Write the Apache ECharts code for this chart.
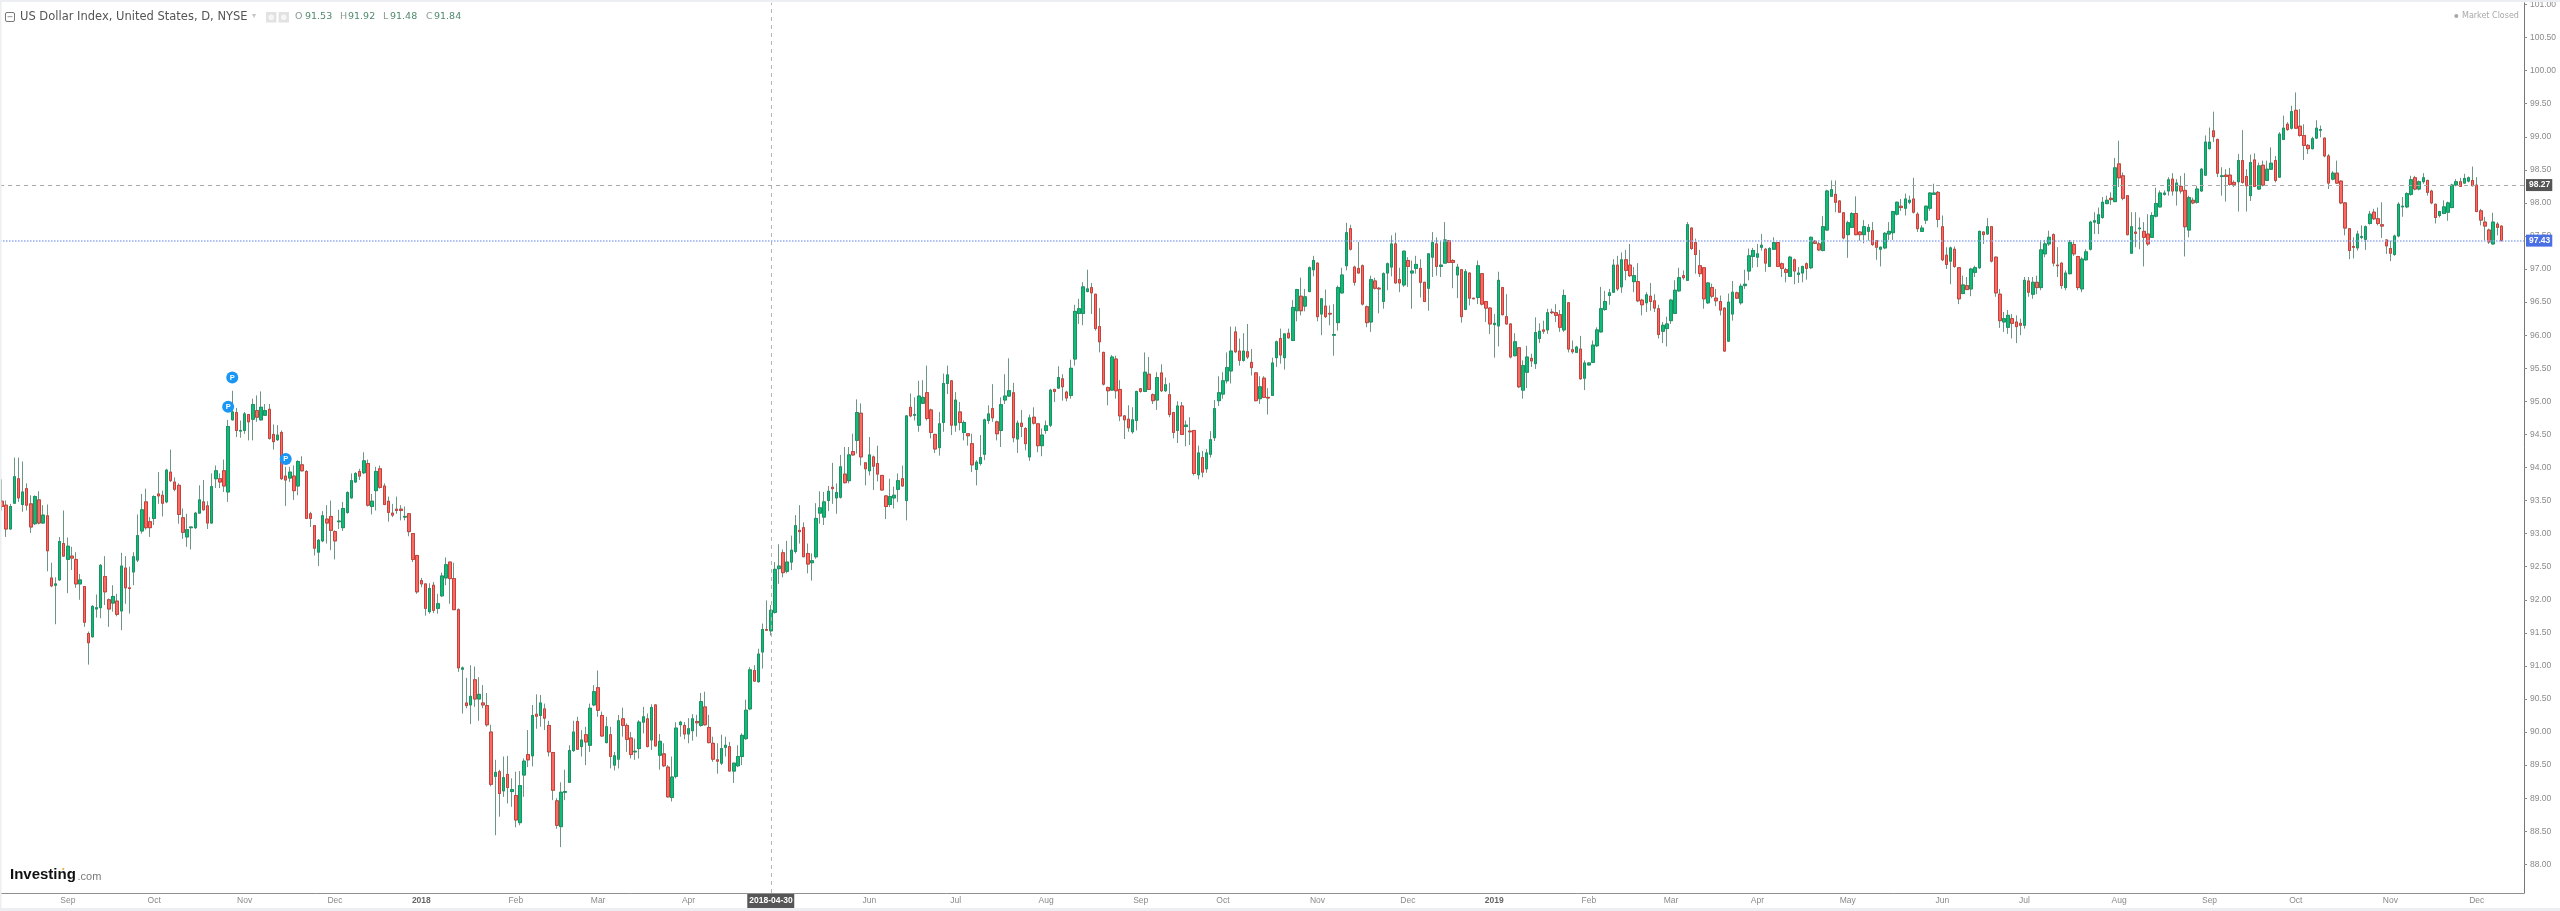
<!DOCTYPE html>
<html>
<head>
<meta charset="utf-8">
<title>US Dollar Index</title>
<script src="https://cdn.jsdelivr.net/npm/echarts@6/dist/echarts.min.js"></script>
<style>html,body{margin:0;padding:0;background:#fff}#c{width:2560px;height:911px}</style>
</head>
<body>
<div id="c"></div>
<script>
// open, close, low, high per trading day
const candles = [
[93.49,93.41,93.35,93.82],[93.43,93.07,92.95,93.50],[93.07,93.41,93.06,93.45],[93.46,93.86,93.45,94.15],[93.83,93.54,93.48,94.15],
[93.44,93.63,93.33,94.09],[93.68,93.43,93.35,93.76],[93.45,93.10,93.01,93.58],[93.15,93.56,93.13,93.58],[93.51,93.16,93.14,93.64],
[93.16,93.28,93.15,93.43],[93.27,92.74,92.43,93.44],[92.33,92.21,92.19,92.56],[92.22,92.24,91.63,92.34],[92.30,92.88,92.29,92.95],
[92.85,92.66,92.65,93.35],[92.61,92.81,92.10,92.94],[92.66,92.63,92.45,92.80],[92.61,92.24,92.18,92.72],[92.24,92.30,92.00,92.39],
[92.20,91.66,91.59,92.20],[91.49,91.35,91.02,91.52],[91.44,91.90,91.43,91.92],[91.86,91.88,91.73,92.08],[91.88,92.52,91.72,92.54],
[92.35,92.12,91.92,92.66],[92.00,91.86,91.59,92.02],[91.95,92.05,91.82,92.22],[91.98,91.78,91.75,92.09],[91.83,92.51,91.54,92.71],
[92.48,92.18,91.94,92.66],[92.18,92.17,91.79,92.50],[92.42,92.65,92.22,92.72],[92.60,92.97,92.57,93.29],[93.04,93.36,93.00,93.60],
[93.48,93.09,93.06,93.68],[93.18,93.09,92.95,93.25],[93.23,93.56,93.13,93.58],[93.60,93.57,93.45,93.93],[93.58,93.46,93.26,93.65],
[93.48,93.96,93.46,93.98],[93.93,93.80,93.78,94.27],[93.78,93.67,93.64,93.85],[93.73,93.29,93.15,93.76],[93.24,93.02,92.92,93.38],
[92.95,93.06,92.80,93.30],[93.09,93.10,92.76,93.10],[93.09,93.31,93.07,93.33],[93.31,93.51,93.30,93.73],[93.48,93.36,93.35,93.81],
[93.42,93.16,93.07,93.49],[93.16,93.71,93.15,93.91],[93.83,93.95,93.69,94.03],[93.83,93.78,93.69,93.91],[93.95,93.72,93.63,94.12],
[93.63,94.62,93.48,94.72],[94.72,94.84,94.71,95.16],[94.83,94.56,94.46,94.90],[94.55,94.56,94.45,94.71],[94.56,94.81,94.51,94.84],
[94.80,94.69,94.41,94.81],[94.73,94.95,94.41,95.04],[94.86,94.76,94.69,95.09],[94.72,94.91,94.71,95.15],[94.79,94.86,94.79,94.96],
[94.88,94.44,94.42,94.96],[94.50,94.39,94.27,94.65],[94.42,94.49,94.40,94.64],[94.53,93.83,93.81,94.56],[93.87,93.81,93.42,94.01],
[93.84,93.93,93.78,94.01],[93.87,93.65,93.51,94.03],[93.72,94.09,93.58,94.11],[94.04,93.95,93.94,94.17],[93.94,93.23,93.22,93.96],
[93.30,93.23,93.10,93.33],[93.12,92.78,92.67,93.13],[92.72,92.90,92.51,92.92],[92.89,93.27,92.87,93.34],[93.22,93.16,92.85,93.43],
[93.26,93.05,92.75,93.50],[93.03,92.89,92.61,93.05],[93.18,93.19,93.07,93.36],[93.09,93.38,93.04,93.48],[93.32,93.62,93.30,93.64],
[93.54,93.80,93.53,93.91],[93.78,93.91,93.77,93.93],[93.94,93.87,93.81,93.98],[93.92,94.10,93.90,94.23],[94.06,93.43,93.41,94.12],
[93.41,93.49,93.29,93.60],[93.65,93.94,93.35,94.01],[93.98,93.70,93.68,94.03],[93.72,93.44,93.43,93.76],[93.49,93.32,93.18,93.56],
[93.31,93.28,93.25,93.45],[93.37,93.35,93.30,93.56],[93.37,93.35,93.20,93.43],[93.25,93.26,93.20,93.41],[93.30,93.03,92.96,93.31],
[93.00,92.61,92.57,93.00],[92.67,92.12,92.09,92.67],[92.29,92.24,92.19,92.33],[92.24,91.87,91.76,92.24],[91.82,92.17,91.79,92.25],
[92.22,91.84,91.80,92.27],[91.87,91.94,91.79,92.09],[92.06,92.36,92.04,92.41],[92.33,92.53,92.22,92.64],[92.57,92.32,91.94,92.57],
[92.32,91.85,91.85,92.56],[91.85,90.97,90.91,91.87],[90.95,90.97,90.28,90.99],[90.44,90.40,90.36,90.82],[90.41,90.54,90.12,91.01],
[90.79,90.50,90.38,90.99],[90.50,90.57,90.17,90.83],[90.44,90.41,90.36,90.71],[90.40,90.11,90.08,90.59],[90.00,89.21,89.18,90.11],
[89.33,89.39,88.44,89.58],[89.40,89.07,88.72,89.43],[89.11,89.31,89.02,89.63],[89.36,89.16,88.92,89.64],[89.10,89.13,88.87,89.30],
[89.04,88.67,88.56,89.40],[88.63,89.19,88.59,89.41],[89.35,89.56,89.02,89.60],[89.66,89.58,89.47,90.03],[89.64,90.25,89.48,90.41],
[90.27,90.24,90.05,90.57],[90.25,90.44,90.08,90.56],[90.35,90.21,90.03,90.43],[90.10,89.70,89.63,90.17],[89.69,89.12,88.97,89.70],
[88.96,88.59,88.54,89.00],[88.57,89.09,88.26,89.24],[89.09,89.10,88.97,89.43],[89.24,89.72,89.23,89.80],[89.72,90.00,89.70,90.17],
[90.16,89.74,89.74,90.23],[89.78,89.88,89.63,90.03],[89.96,89.85,89.50,90.08],[89.80,90.36,89.70,90.43],[90.41,90.61,90.39,90.71],
[90.67,90.33,90.23,90.93],[90.25,89.94,89.93,90.31],[89.84,90.08,89.83,90.23],[89.96,89.63,89.45,90.08],[89.50,89.64,89.42,89.70],
[89.59,90.17,89.45,90.26],[90.20,90.10,89.93,90.37],[90.10,89.89,89.70,90.13],[89.91,89.66,89.60,90.00],[89.70,89.71,89.58,89.90],
[89.75,90.15,89.60,90.18],[90.15,90.23,89.98,90.38],[90.20,89.78,89.77,90.28],[89.88,90.37,89.73,90.42],[90.41,89.79,89.78,90.42],
[89.65,89.86,89.43,89.97],[89.67,89.49,89.47,89.83],[89.47,89.02,89.01,89.50],[89.01,89.32,88.95,89.63],[89.33,90.06,89.30,90.15],
[90.11,90.15,89.93,90.17],[90.10,89.97,89.89,90.15],[89.97,90.05,89.83,90.21],[90.02,90.20,89.87,90.27],[90.16,90.14,89.93,90.26],
[90.10,90.46,90.08,90.59],[90.38,90.11,90.10,90.61],[90.07,89.84,89.83,90.26],[89.83,89.59,89.55,89.93],[89.58,89.56,89.37,89.83],
[89.53,89.75,89.50,89.96],[89.77,89.80,89.63,89.93],[89.78,89.41,89.41,89.85],[89.41,89.53,89.23,89.53],[89.49,89.63,89.47,89.80],
[89.63,89.95,89.50,89.98],[89.90,90.33,89.88,90.49],[90.35,90.94,90.33,90.98],[90.93,90.77,90.76,91.01],[90.76,91.18,90.75,91.26],
[91.21,91.55,90.96,91.64],[91.55,91.54,91.54,91.99],[91.53,91.84,91.46,91.92],[91.81,92.46,91.79,92.57],[92.47,92.51,92.24,92.84],
[92.71,92.41,92.34,92.76],[92.43,92.57,92.40,92.89],[92.57,92.75,92.45,92.97],[92.73,93.12,92.70,93.28],[93.05,93.03,92.85,93.43],
[93.09,92.65,92.65,93.17],[92.70,92.54,92.40,92.85],[92.56,92.59,92.29,92.70],[92.65,93.23,92.62,93.46],[93.31,93.39,93.15,93.64],
[93.25,93.48,93.13,93.63],[93.50,93.64,93.34,93.72],[93.70,93.68,93.45,94.07],[93.54,93.62,93.30,93.76],[93.55,94.01,93.53,94.19],
[93.90,93.77,93.76,94.31],[93.80,94.19,93.76,94.31],[94.24,94.19,94.18,94.51],[94.41,94.83,94.21,95.03],[94.82,94.16,94.03,94.97],
[94.07,93.98,93.73,94.08],[93.95,94.19,93.88,94.46],[94.16,94.02,93.66,94.18],[94.06,93.90,93.79,94.33],[93.88,93.66,93.65,93.88],
[93.57,93.41,93.22,93.58],[93.44,93.56,93.40,93.83],[93.54,93.58,93.38,93.71],[93.67,93.80,93.48,93.91],[93.83,93.72,93.71,94.03],
[93.50,94.78,93.20,94.79],[94.91,94.78,94.76,95.12],[94.79,94.80,94.71,95.06],[94.64,95.08,94.54,95.31],[94.97,95.06,94.96,95.32],
[95.13,94.74,94.71,95.54],[94.87,94.53,94.44,94.89],[94.50,94.28,94.22,94.51],[94.30,94.66,94.18,94.84],[94.68,95.27,94.54,95.42],
[95.27,95.40,95.11,95.54],[95.31,94.64,94.49,95.32],[94.64,95.02,94.54,95.14],[94.84,94.68,94.56,94.99],[94.53,94.68,94.41,94.71],
[94.51,94.48,94.33,94.51],[94.36,94.04,93.93,94.51],[93.97,94.08,93.73,94.11],[94.06,94.15,94.03,94.49],[94.20,94.72,94.11,94.74],
[94.71,94.81,94.66,94.94],[94.89,94.75,94.69,95.26],[94.69,94.51,94.41,94.71],[94.56,94.95,94.31,95.06],[95.02,95.08,94.96,95.41],
[95.08,95.16,95.07,95.65],[95.13,94.45,94.38,95.28],[94.43,94.67,94.22,94.71],[94.67,94.62,94.46,94.87],[94.59,94.36,94.26,94.61],
[94.16,94.75,94.10,94.80],[94.76,94.67,94.65,94.91],[94.66,94.33,94.23,94.66],[94.33,94.49,94.17,94.59],[94.56,94.63,94.51,94.71],
[94.64,95.17,94.61,95.19],[95.18,95.15,94.99,95.19],[95.20,95.36,95.19,95.53],[95.34,95.22,95.01,95.41],[95.14,95.05,95.00,95.16],
[95.09,95.50,95.04,95.63],[95.64,96.36,95.54,96.46],[96.33,96.40,96.17,96.55],[96.33,96.73,96.15,96.80],[96.66,96.70,96.65,96.99],
[96.72,96.64,96.32,96.79],[96.62,96.10,96.07,96.62],[96.13,95.90,95.74,96.41],[95.74,95.26,95.24,95.75],[95.21,95.16,94.94,95.22],
[95.17,95.67,95.16,95.70],[95.64,95.16,95.04,95.69],[95.18,94.78,94.70,95.32],[94.78,94.72,94.43,94.79],[94.73,94.60,94.54,94.94],
[94.54,94.72,94.51,94.91],[94.71,95.15,94.56,95.16],[95.19,95.15,95.13,95.20],[95.15,95.44,95.14,95.74],[95.41,95.18,95.17,95.67],
[95.10,95.01,94.96,95.12],[95.02,95.36,94.87,95.44],[95.43,95.16,95.14,95.56],[95.16,95.25,95.14,95.36],[95.10,94.80,94.76,95.28],
[94.83,94.53,94.44,94.84],[94.56,94.93,94.37,95.00],[94.93,94.50,94.49,94.99],[94.62,94.64,94.32,94.71],[94.55,94.54,94.34,94.76],
[94.56,93.91,93.88,94.56],[93.89,94.22,93.82,94.33],[94.15,93.93,93.85,94.25],[93.98,94.22,93.92,94.28],[94.20,94.42,94.15,94.55],
[94.45,94.89,94.40,95.02],[95.01,95.13,94.93,95.38],[95.11,95.31,95.04,95.44],[95.31,95.51,95.27,95.74],[95.46,95.76,95.27,96.13],
[96.05,95.75,95.73,96.13],[95.76,95.62,95.54,95.95],[95.62,95.76,95.60,96.03],[95.75,95.67,95.64,96.17],[95.59,95.51,95.39,95.79],
[95.43,95.01,95.00,95.44],[95.04,95.22,94.96,95.38],[95.35,95.06,95.05,95.38],[95.06,95.05,94.80,95.20],[95.09,95.58,95.08,95.66],
[95.66,95.90,95.52,95.92],[95.95,95.70,95.57,96.10],[95.66,96.02,95.48,96.02],[96.03,95.96,95.95,96.10],[95.92,96.42,95.91,96.53],
[96.37,96.69,96.21,96.70],[96.59,96.37,96.30,96.87],[96.44,96.58,96.36,96.70],[96.66,97.02,96.65,97.04],[96.99,97.13,96.89,97.20],
[97.09,96.28,96.21,97.10],[96.32,96.55,96.00,96.56],[96.44,96.28,96.26,96.69],[96.33,96.32,96.15,96.45],[96.00,96.01,95.69,96.47],
[96.19,96.72,96.07,96.75],[96.64,96.91,96.63,97.02],[97.05,97.55,96.98,97.70],[97.61,97.30,97.28,97.67],[97.03,96.80,96.75,97.05],
[97.01,96.94,96.93,97.41],[97.05,96.47,96.45,97.07],[96.43,96.19,96.12,96.45],[96.20,96.84,96.05,96.90],[96.82,96.71,96.69,96.87],
[96.71,96.70,96.33,96.73],[96.51,96.93,96.40,96.95],[96.94,97.08,96.68,97.10],[97.03,97.38,96.89,97.51],[97.38,96.79,96.78,97.55],
[96.84,96.79,96.65,97.02],[96.76,97.27,96.73,97.28],[97.13,97.04,96.73,97.18],[96.94,96.97,96.40,97.13],[97.01,97.07,96.93,97.20],
[97.01,96.80,96.57,97.15],[96.80,96.51,96.50,96.80],[96.71,97.23,96.37,97.24],[97.18,97.40,96.88,97.56],[97.38,97.04,96.90,97.48],
[97.04,97.06,96.88,97.43],[97.09,97.44,97.09,97.71],[97.43,97.10,97.09,97.44],[97.13,97.10,96.71,97.15],[96.91,97.03,96.56,97.08],
[96.99,96.28,96.19,97.00],[96.39,96.96,96.38,97.00],[96.94,96.56,96.45,96.95],[96.56,96.55,96.55,96.56],[96.57,97.05,96.47,97.13],
[96.93,96.47,96.45,96.94],[96.51,96.41,96.20,96.51],[96.41,96.17,96.02,96.42],[96.16,96.18,95.66,96.32],[96.14,96.83,95.83,96.96],
[96.72,96.31,96.30,96.73],[96.28,96.17,96.16,96.62],[96.17,95.67,95.65,96.18],[95.69,95.90,95.68,96.03],[95.81,95.22,95.20,95.82],
[95.17,95.54,95.04,95.62],[95.44,95.67,95.20,95.84],[95.65,95.61,95.52,95.72],[95.57,96.04,95.49,96.27],[95.95,96.06,95.88,96.18],
[96.08,96.06,96.02,96.22],[96.08,96.34,96.02,96.40],[96.35,96.34,96.32,96.40],[96.34,96.30,96.20,96.47],[96.31,96.12,96.05,96.38],
[96.08,96.60,96.05,96.69],[96.49,95.79,95.74,96.50],[95.78,95.75,95.72,95.92],[95.74,95.82,95.73,95.84],[95.79,95.34,95.33,95.99],
[95.35,95.58,95.17,95.62],[95.55,95.58,95.54,95.59],[95.59,95.85,95.58,95.92],[95.84,96.08,95.82,96.12],[96.05,96.40,96.04,96.73],
[96.39,96.51,96.37,96.67],[96.60,96.64,96.46,96.70],[96.65,97.06,96.64,97.15],[97.06,96.70,96.67,97.20],[96.73,97.14,96.64,97.25],
[97.14,96.98,96.83,97.29],[97.06,96.90,96.88,97.38],[96.81,96.90,96.65,97.03],[96.81,96.52,96.50,97.09],[96.53,96.46,96.30,96.55],
[96.49,96.61,96.35,96.65],[96.59,96.51,96.37,96.79],[96.52,96.41,96.35,96.62],[96.40,96.01,95.95,96.46],[96.06,96.15,95.88,96.20],
[96.10,96.17,95.83,96.28],[96.22,96.53,96.17,96.55],[96.33,96.68,96.32,96.83],[96.67,96.87,96.66,97.02],[96.90,96.87,96.84,96.98],
[96.83,97.67,96.82,97.71],[97.62,97.31,97.29,97.63],[97.40,97.22,96.93,97.46],[97.05,96.93,96.88,97.29],[97.02,96.55,96.40,97.03],
[96.49,96.79,96.47,96.80],[96.72,96.59,96.56,96.78],[96.56,96.52,96.44,96.70],[96.51,96.38,96.30,96.60],[96.41,95.76,95.75,96.42],
[95.91,96.50,95.90,96.63],[96.32,96.65,96.22,96.82],[96.64,96.56,96.55,96.66],[96.49,96.74,96.46,96.78],[96.75,96.77,96.70,96.99],
[96.97,97.20,96.83,97.31],[97.19,97.28,97.02,97.32],[97.18,97.23,97.03,97.38],[97.33,97.36,97.28,97.53],[97.30,97.09,96.96,97.32],
[97.04,97.31,97.03,97.33],[97.30,97.40,97.29,97.48],[97.40,97.04,97.03,97.41],[97.08,97.01,96.88,97.10],[96.99,96.95,96.80,97.02],
[96.89,97.18,96.88,97.20],[97.14,96.97,96.77,97.16],[96.92,96.94,96.79,97.03],[96.94,97.04,96.80,97.05],[97.08,97.01,96.84,97.10],
[97.02,97.48,97.00,97.49],[97.42,97.39,97.38,97.44],[97.38,97.29,97.27,97.41],[97.28,97.64,97.27,97.80],[97.59,98.18,97.58,98.20],
[98.10,98.20,98.09,98.34],[98.13,98.01,97.86,98.34],[98.03,97.86,97.86,98.04],[97.85,97.47,97.45,97.86],[97.52,97.70,97.17,97.73],
[97.63,97.84,97.62,97.86],[97.84,97.52,97.51,98.10],[97.56,97.52,97.43,97.57],[97.52,97.64,97.39,97.74],[97.57,97.63,97.43,97.68],
[97.58,97.37,97.35,97.71],[97.43,97.33,97.14,97.44],[97.30,97.33,97.04,97.34],[97.32,97.54,97.30,97.56],[97.53,97.57,97.44,97.71],
[97.55,97.87,97.44,97.88],[97.83,98.01,97.81,98.02],[97.95,97.93,97.88,98.06],[97.92,98.06,97.81,98.14],[98.01,98.04,97.98,98.11],
[98.06,97.86,97.84,98.38],[97.83,97.61,97.56,97.86],[97.57,97.62,97.56,97.66],[97.74,97.95,97.68,97.96],[97.92,98.15,97.88,98.16],
[98.13,98.15,98.13,98.29],[98.16,97.75,97.63,98.18],[97.64,97.14,97.12,97.81],[97.21,97.07,97.00,97.33],[97.12,97.32,96.77,97.34],
[97.30,97.04,97.02,97.34],[97.02,96.55,96.47,97.03],[96.63,96.76,96.62,96.90],[96.75,96.69,96.69,96.88],[96.70,97.00,96.59,97.02],
[96.95,97.02,96.88,97.05],[97.02,97.57,97.00,97.58],[97.56,97.52,97.38,97.57],[97.53,97.64,97.52,97.77],[97.64,97.12,97.10,97.65],
[97.18,96.64,96.58,97.19],[96.62,96.22,96.11,96.70],[96.20,96.25,96.05,96.35],[96.12,96.30,96.02,96.38],[96.25,96.18,95.95,96.32],
[96.20,96.13,95.88,96.30],[96.18,96.15,96.00,96.25],[96.15,96.83,96.10,96.88],[96.82,96.65,96.58,96.88],[96.62,96.80,96.55,96.88],
[96.80,96.72,96.62,96.90],[96.72,97.29,96.68,97.44],[97.23,97.38,97.18,97.44],[97.38,97.48,97.35,97.58],[97.52,97.09,97.04,97.54],
[97.06,97.05,96.88,97.33],[97.09,96.75,96.70,97.10],[96.72,96.94,96.68,96.98],[96.93,97.40,96.92,97.44],[97.37,97.23,97.20,97.44],
[97.19,96.72,96.68,97.20],[96.70,97.15,96.65,97.18],[97.14,97.26,97.13,97.30],[97.30,97.71,97.28,97.73],[97.71,97.73,97.53,97.86],
[97.69,97.82,97.53,97.93],[97.78,98.01,97.76,98.09],[97.99,98.04,97.98,98.11],[98.07,98.05,97.97,98.16],[98.02,98.53,98.01,98.68],
[98.59,98.38,98.24,98.94],[98.41,98.07,98.04,98.46],[98.11,97.52,97.51,98.11],[97.24,97.64,97.23,97.86],[97.56,97.54,97.33,97.86],
[97.61,97.62,97.30,97.78],[97.57,97.48,97.04,97.71],[97.53,97.38,97.35,97.83],[97.48,97.81,97.47,97.86],[97.80,97.99,97.78,98.23],
[97.94,98.15,97.93,98.19],[98.13,98.15,98.11,98.19],[98.18,98.35,98.11,98.39],[98.36,98.18,98.11,98.45],[98.18,98.30,97.96,98.36],
[98.25,98.18,98.14,98.41],[98.19,97.64,97.19,98.45],[97.59,98.08,97.48,98.11],[98.04,98.00,97.98,98.08],[98.01,98.21,97.99,98.26],
[98.18,98.51,98.17,98.53],[98.42,98.92,98.41,99.02],[98.82,98.92,98.81,99.14],[99.09,99.00,98.92,99.38],[98.96,98.45,98.39,98.97],
[98.40,98.41,98.11,98.54],[98.42,98.40,98.02,98.51],[98.42,98.28,98.26,98.53],[98.31,98.28,98.24,98.34],[98.32,98.64,97.87,98.74],
[98.64,98.31,98.29,99.10],[98.40,98.26,97.87,98.51],[98.11,98.61,98.03,98.73],[98.65,98.25,98.24,98.75],[98.21,98.56,98.20,98.61],
[98.57,98.27,98.25,98.64],[98.34,98.51,98.34,98.64],[98.51,98.60,98.50,98.84],[98.64,98.34,98.31,98.71],[98.39,99.04,98.38,99.07],
[98.96,99.13,98.95,99.32],[99.19,99.11,99.09,99.22],[99.13,99.38,99.11,99.47],[99.40,99.13,99.12,99.67],[99.16,99.02,99.00,99.42],
[99.02,98.87,98.65,99.19],[98.87,98.82,98.74,98.89],[98.82,98.97,98.81,99.00],[98.98,99.13,98.97,99.25],[99.10,99.11,98.99,99.17],
[98.98,98.71,98.69,98.99],[98.71,98.30,98.21,98.74],[98.36,98.45,98.34,98.48],[98.45,98.30,98.29,98.64],[98.33,98.00,97.98,98.34],
[98.00,97.62,97.51,98.01],[97.61,97.28,97.15,97.61],[97.34,97.33,97.16,97.48],[97.32,97.53,97.28,97.58],[97.48,97.49,97.45,97.66],
[97.45,97.64,97.29,97.66],[97.69,97.83,97.67,97.88],[97.86,97.76,97.74,97.91],[97.76,97.69,97.66,97.93],[97.67,97.65,97.47,98.01],
[97.44,97.35,97.23,97.45],[97.31,97.24,97.12,97.43],[97.22,97.50,97.20,97.52],[97.50,97.98,97.48,98.01],[97.94,97.95,97.79,98.09],
[97.94,98.14,97.92,98.16],[98.13,98.35,98.11,98.41],[98.38,98.21,98.19,98.41],[98.21,98.32,98.19,98.34],[98.32,98.38,98.29,98.45],
[98.34,98.16,98.11,98.35],[98.18,98.00,97.98,98.20],[97.98,97.78,97.69,97.99],[97.81,97.87,97.78,97.88],[97.84,97.94,97.83,98.04],
[97.86,98.00,97.73,98.02],[97.93,98.27,97.92,98.29],[98.27,98.32,98.25,98.36],[98.32,98.25,98.24,98.38],[98.30,98.37,98.29,98.44],
[98.33,98.38,98.31,98.40],[98.34,98.26,98.25,98.55],[98.27,97.87,97.86,98.39],[97.88,97.74,97.66,97.91],[97.71,97.65,97.43,97.79],
[97.59,97.41,97.38,97.61],[97.38,97.71,97.37,97.85],[97.68,97.63,97.51,97.71],[97.65,97.43,97.42,97.66]
];
const firstDay = '2017-08-10';
const spareSessions = 5;
const monthTicks = ['2017-09-01','2017-10-02','2017-11-01','2017-12-01','2018-01-01','2018-02-01','2018-03-01','2018-04-02','2018-06-01','2018-07-02','2018-08-01','2018-09-03','2018-10-01','2018-11-01','2018-12-03','2019-01-01','2019-02-01','2019-03-01','2019-04-01','2019-05-01','2019-06-03','2019-07-01','2019-08-01','2019-09-02','2019-10-01','2019-11-01','2019-12-02'];
const monthNames = ['Sep','Oct','Nov','Dec','2018','Feb','Mar','Apr','Jun','Jul','Aug','Sep','Oct','Nov','Dec','2019','Feb','Mar','Apr','May','Jun','Jul','Aug','Sep','Oct','Nov','Dec'];
const crosshairDate = '2018-04-30';
const priceTicks = [88,88.5,89,89.5,90,90.5,91,91.5,92,92.5,93,93.5,94,94.5,95,95.5,96,96.5,97,97.5,98,98.5,99,99.5,100,100.5,101];
const lastPrice = 97.43;
const crosshairPrice = 98.27;
const publishedIdeas = [[55,94.92],[56,95.36],[69,94.13]];
const titleText = 'US Dollar Index, United States, D, NYSE';
const ohlcLetters = ['O','H','L','C'];
const ohlcValues = ['91.53','91.92','91.48','91.84'];

const categories = [];
{
  const d = new Date(firstDay + 'T00:00:00Z');
  while (categories.length < candles.length + spareSessions) {
    const wd = d.getUTCDay();
    if (wd !== 0 && wd !== 6) categories.push(d.toISOString().slice(0, 10));
    d.setUTCDate(d.getUTCDate() + 1);
  }
}
const tickName = {};
monthTicks.forEach((d, i) => { tickName[d] = monthNames[i]; });
tickName[crosshairDate] = crosshairDate;

const FONT = '"Liberation Sans", Arial, sans-serif';
const UI = '"DejaVu Sans", sans-serif';
const bodies = candles.map(r => [r[0], r[1], Math.min(r[0], r[1]), Math.max(r[0], r[1])]);
const isTick = (i, v) => v in tickName;

const ohlcGraphics = [];
[[295, 305], [340, 348], [383, 390], [426, 434]].forEach((p, i) => {
  ohlcGraphics.push({ type: 'text', x: p[0], y: 17, style: { text: ohlcLetters[i], font: '9.5px ' + UI, fill: '#8a9a92', verticalAlign: 'middle' } });
  ohlcGraphics.push({ type: 'text', x: p[1], y: 17, style: { text: ohlcValues[i], font: '9.5px ' + UI, fill: '#4f8a69', verticalAlign: 'middle' } });
});

const chart = echarts.init(document.getElementById('c'), null, { renderer: 'canvas' });
chart.setOption({
  animation: false,
  backgroundColor: '#ffffff',
  grid: { left: 0, right: 36, top: 2, bottom: 18, containLabel: false },
  xAxis: {
    type: 'category', data: categories, boundaryGap: true,
    axisLine: { lineStyle: { color: '#8f8f8f', width: 1 } },
    axisTick: { length: 2, interval: isTick, alignWithLabel: true, lineStyle: { color: '#8f8f8f' } },
    splitLine: { show: false },
    axisLabel: {
      interval: isTick, margin: 1,
      formatter: v => {
        const t = tickName[v];
        if (v === crosshairDate) return '{tag|' + t + '}';
        if (t === '2018' || t === '2019') return '{year|' + t + '}';
        return '{m|' + t + '}';
      },
      rich: {
        tag: { backgroundColor: '#565656', color: '#ffffff', fontSize: 8.5, fontFamily: FONT, fontWeight: 'bold', padding: [0, 1.5, 0, 2], height: 14, lineHeight: 14 },
        year: { color: '#666666', fontSize: 8.5, fontFamily: FONT, fontWeight: 'bold', height: 14, lineHeight: 14 },
        m: { color: '#8a8a8a', fontSize: 8.5, fontFamily: FONT, height: 14, lineHeight: 14 }
      }
    }
  },
  yAxis: {
    type: 'value', position: 'right', min: 87.5665, max: 101.026, scale: true,
    axisLine: { show: true, lineStyle: { color: '#777777', width: 1 } },
    axisTick: { show: true, length: 3, customValues: priceTicks, lineStyle: { color: '#8a8a8a' } },
    splitLine: { show: false },
    axisLabel: { customValues: priceTicks, margin: 6, fontSize: 8.5, fontFamily: FONT, color: '#8a8a8a', formatter: v => v.toFixed(2) }
  },
  series: [
    {
      type: 'candlestick', name: 'wicks', data: candles, barWidth: 3, large: false, silent: true, z: 2,
      itemStyle: { color: '#10bb77', color0: '#fb6a62', borderColor: '#6f9685', borderColor0: '#6f9685', borderWidth: 1 }
    },
    {
      type: 'candlestick', name: 'bodies', data: bodies, barWidth: 3, large: false, silent: true, z: 3,
      itemStyle: { color: '#10bb77', color0: '#fb6a62', borderColor: '#1b9263', borderColor0: '#c5423c', borderWidth: 1 },
      markLine: {
        silent: true, symbol: 'none', z: 4, animation: false,
        data: [
          { yAxis: lastPrice, lineStyle: { color: '#93aaf0', type: 'dotted', width: 1.5 },
            label: { show: true, position: 'end', distance: 2, formatter: lastPrice.toFixed(2), backgroundColor: '#4a6fe3', color: '#fff', fontSize: 8.5, fontFamily: FONT, fontWeight: 'bold', padding: [2, 2, 1, 3] } },
          { yAxis: crosshairPrice, lineStyle: { color: '#a8a8a8', type: [4, 4], width: 1 },
            label: { show: true, position: 'end', distance: 2, formatter: crosshairPrice.toFixed(2), backgroundColor: '#555555', color: '#fff', fontSize: 8.5, fontFamily: FONT, fontWeight: 'bold', padding: [2, 2, 1, 3] } },
          { xAxis: crosshairDate, lineStyle: { color: '#b4b4b4', type: [4, 4], width: 1 }, label: { show: false } }
        ]
      }
    },
    {
      type: 'scatter', name: 'ideas', data: publishedIdeas, symbol: 'circle', symbolSize: 12, silent: true, z: 5,
      itemStyle: { color: '#1a96f5', opacity: 1 },
      label: { show: true, position: 'inside', formatter: 'P', color: '#fff', fontSize: 7.5, fontWeight: 'bold', fontFamily: FONT }
    }
  ],
  graphic: [
    { type: 'rect', silent: true, z: 10, shape: { x: 0, y: 0, width: 2560, height: 2 }, style: { fill: '#eceef2' } },
    { type: 'rect', silent: true, z: 10, shape: { x: 0, y: 908, width: 2560, height: 3 }, style: { fill: '#eceef2' } },
    { type: 'rect', silent: true, z: 10, shape: { x: 0, y: 0, width: 1.5, height: 911 }, style: { fill: '#eceef2' } },
    { type: 'rect', silent: true, z: 11, shape: { x: 5.5, y: 12.5, width: 9, height: 9, r: 1.5 }, style: { fill: '#fff', stroke: '#777', lineWidth: 1 } },
    { type: 'rect', silent: true, z: 11, shape: { x: 7.5, y: 16.5, width: 5, height: 0.6 }, style: { fill: '#555' } },
    { type: 'text', silent: true, z: 11, x: 20, y: 17, style: { text: titleText, font: '11.5px ' + UI, fill: '#555555', verticalAlign: 'middle' } },
    { type: 'text', silent: true, z: 11, x: 252, y: 16, style: { text: '▾', font: '8px ' + UI, fill: '#c4c4c4', verticalAlign: 'middle' } },
    { type: 'rect', silent: true, z: 11, shape: { x: 266, y: 12, width: 10.5, height: 10.5 }, style: { fill: '#e2e2e2' } },
    { type: 'circle', silent: true, z: 12, shape: { cx: 271.2, cy: 17.2, r: 2.8 }, style: { fill: '#f6f6f6' } },
    { type: 'rect', silent: true, z: 11, shape: { x: 278.5, y: 12, width: 10.5, height: 10.5 }, style: { fill: '#e2e2e2' } },
    { type: 'circle', silent: true, z: 12, shape: { cx: 283.7, cy: 17.2, r: 2.8 }, style: { fill: '#f6f6f6' } },
    ...ohlcGraphics.map(g => Object.assign({ silent: true, z: 11 }, g)),
    { type: 'circle', silent: true, z: 11, shape: { cx: 2456.3, cy: 16, r: 2 }, style: { fill: '#a8a8a8' } },
    { type: 'text', silent: true, z: 11, x: 2462, y: 16, style: { text: 'Market Closed', font: '8px ' + UI, fill: '#a8a8a8', verticalAlign: 'middle' } },
    { type: 'text', silent: true, z: 11, x: 10, y: 875, style: { text: 'Investing', font: 'bold 15px ' + FONT, fill: '#111111', verticalAlign: 'middle' } },
    { type: 'circle', silent: true, z: 12, shape: { cx: 63.3, cy: 869, r: 1 }, style: { fill: '#f5a623' } },
    { type: 'text', silent: true, z: 11, x: 77.5, y: 877, style: { text: '.com', font: '11px ' + FONT, fill: '#7a7a7a', verticalAlign: 'middle' } }
  ]
});
</script>
</body>
</html>
